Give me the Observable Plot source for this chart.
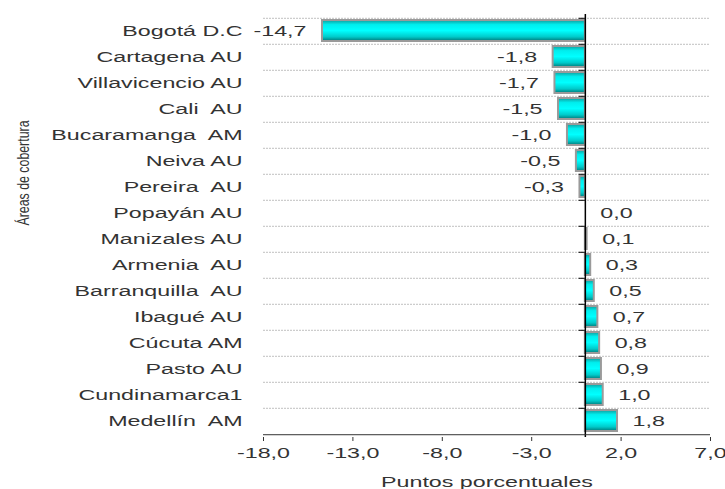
<!DOCTYPE html>
<html>
<head>
<meta charset="utf-8">
<script src="https://cdn.jsdelivr.net/npm/d3@7"></script>
<script src="https://cdn.jsdelivr.net/npm/@observablehq/plot@0.6"></script>
<style>
  html, body { margin: 0; padding: 0; background: #fff; }
</style>
</head>
<body>
<div id="chart"></div>
<script>
const categories = ["Bogotá D.C", "Cartagena AU", "Villavicencio AU", "Cali  AU", "Bucaramanga  AM", "Neiva AU", "Pereira  AU", "Popayán AU", "Manizales AU", "Armenia  AU", "Barranquilla  AU", "Ibagué AU", "Cúcuta AM", "Pasto AU", "Cundinamarca1", "Medellín  AM"];
const values = [-14.7, -1.8, -1.7, -1.5, -1.0, -0.5, -0.3, 0.0, 0.1, 0.3, 0.5, 0.7, 0.8, 0.9, 1.0, 1.8];
const xTicks = [-18, -13, -8, -3, 2, 7];
const xTitle = "Puntos porcentuales";
const yTitle = "Áreas de cobertura";

const data = categories.map((name, i) => ({name, value: values[i]}));
const fmt = d => d.toFixed(1).replace(".", ",");

const W = 725, H = 489, mT = 14, mB = 52, mL = 263, mR = 15;
const step = (H - mT - mB) / categories.length;
const frameMidY = mT + (H - mT - mB) / 2;

const chart = Plot.plot({
  width: W, height: H,
  marginLeft: mL, marginRight: mR, marginTop: mT, marginBottom: mB,
  style: {fontFamily: "'Liberation Sans', Arial, sans-serif", fontSize: "14px", color: "#333", background: "#fff", overflow: "visible"},
  x: {domain: [-18, 7]},
  y: {domain: categories, padding: 0},
  marks: [
    Plot.ruleY(categories, {y: d => d, dy: -step / 2, stroke: "#c0c0c0", strokeDasharray: "2,1", strokeWidth: 1}),
    Plot.barX(data, {x: "value", y: "name", fill: "url(#cyanGrad)", stroke: "#9a9a9a", strokeWidth: 2, insetTop: 2, insetBottom: 3}),
    Plot.ruleX([0], {stroke: "#000", strokeWidth: 1.5}),
    Plot.ruleY(categories, {y: d => d, dy: -step / 2, x1: 0, x2: -0.35, stroke: "#000", strokeWidth: 1}),
    Plot.ruleY(categories.slice(-1), {y: d => d, dy: step / 2, stroke: "#333", strokeWidth: 1}),
    Plot.text(data.filter(d => d.value < 0), {x: "value", y: "name", text: d => fmt(d.value), textAnchor: "end", dx: -16, fill: "#333", fontSize: 14}),
    Plot.text(data.filter(d => d.value >= 0), {x: "value", y: "name", text: d => fmt(d.value), textAnchor: "start", dx: 15, fill: "#333", fontSize: 14}),
    Plot.axisX({ticks: xTicks, tickSize: 4, tickPadding: 7, tickFormat: fmt, label: null, fontSize: 14, stroke: "#333", color: "#333"}),
    Plot.axisY({tickSize: 0, tickPadding: 21, label: null, fontSize: 14, color: "#333"}),
    Plot.text([xTitle], {frameAnchor: "bottom", dy: 49, text: d => d, fill: "#333", fontSize: 14}),
    Plot.text([yTitle], {frameAnchor: "left", dx: 23 - mL, dy: 225 - frameMidY, rotate: -90, text: d => d, fill: "#333", fontSize: 16, textAnchor: "start", lineAnchor: "middle"})
  ]
});

document.getElementById("chart").appendChild(chart);

const svg = d3.select(chart.tagName === "svg" ? chart : chart.querySelector("svg"));
const grad = svg.insert("defs", ":first-child").append("linearGradient")
  .attr("id", "cyanGrad").attr("x1", 0).attr("y1", 0).attr("x2", 0).attr("y2", 1);
[[0, "#0e9c9c"], [0.22, "#00eeee"], [0.5, "#00ffff"], [0.8, "#00caca"], [1, "#007878"]]
  .forEach(([o, c]) => grad.append("stop").attr("offset", o).attr("stop-color", c));

svg.selectAll("text").each(function() {
  const len = this.getComputedTextLength();
  if (!len) return;
  const isY = this.textContent === yTitle;
  this.setAttribute("textLength", isY ? 105 : len * 1.66);
  this.setAttribute("lengthAdjust", "spacingAndGlyphs");
});
</script>
</body>
</html>
